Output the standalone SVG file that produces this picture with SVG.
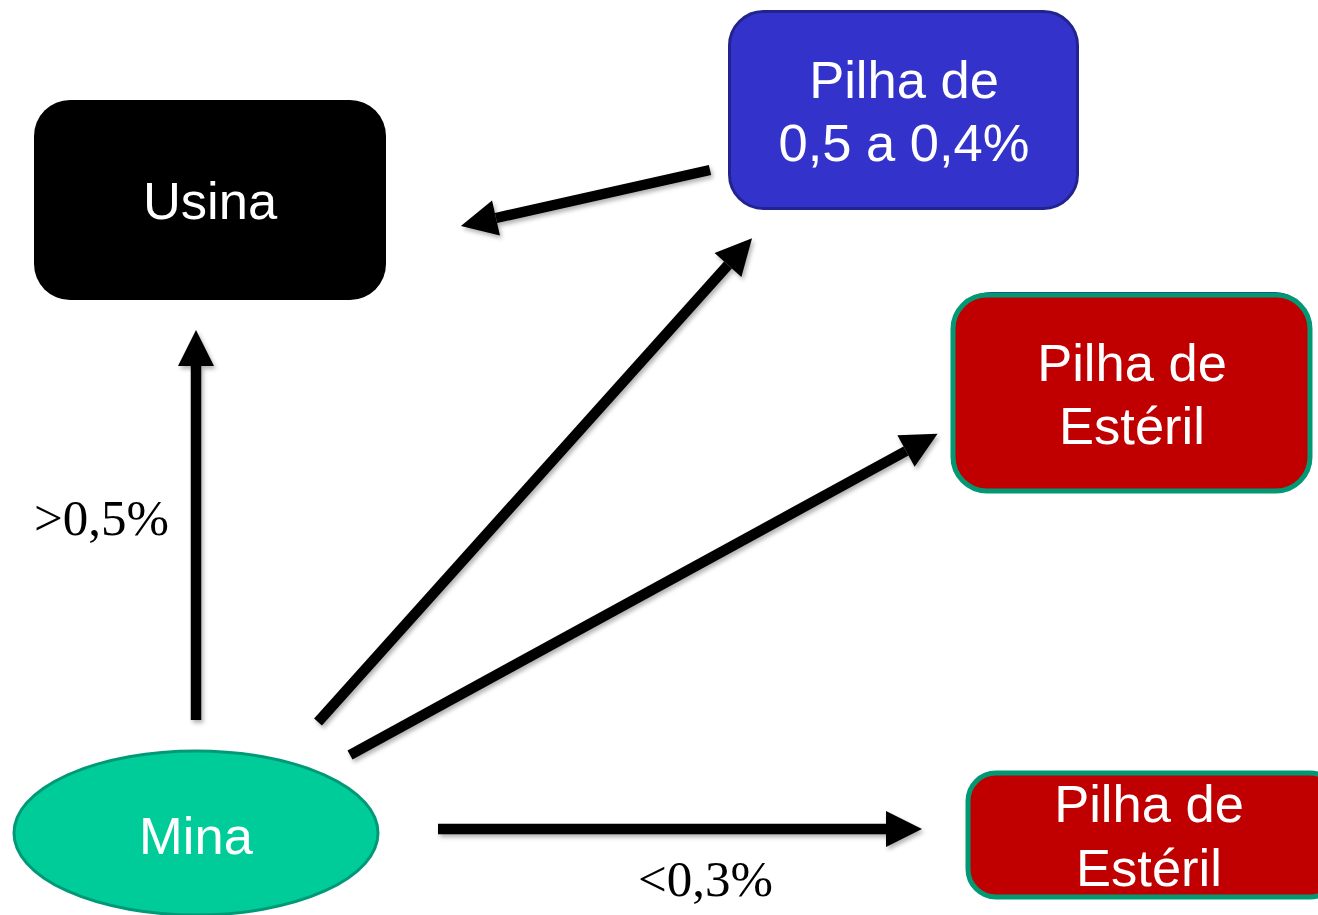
<svg xmlns="http://www.w3.org/2000/svg" width="1318" height="915" viewBox="0 0 1318 915">
<style>
.lbl{font-family:"Liberation Sans",Arial,sans-serif;font-size:52.5px;fill:#fff;text-anchor:middle}
.pct{font-family:"Liberation Serif","Times New Roman",serif;font-size:51px;fill:#000}
.conn{stroke:#000;stroke-width:10.5;fill:none;marker-end:url(#ah)}
</style>
<defs>
<marker id="ah" markerUnits="userSpaceOnUse" markerWidth="40" markerHeight="40" refX="0" refY="18" orient="auto" overflow="visible">
<path d="M0,0 L36,18 L0,36 Z" fill="#000"/>
</marker>
<filter id="sh" x="-10%" y="-10%" width="120%" height="120%">
<feDropShadow dx="2" dy="3" stdDeviation="2" flood-color="#000" flood-opacity="0.3"/>
</filter>
</defs>
<g id="connectors" filter="url(#sh)">
<line class="conn" x1="196" y1="720" x2="196" y2="366"/>
<line class="conn" x1="318" y1="722" x2="728" y2="265"/>
<line class="conn" x1="350" y1="755" x2="906" y2="451"/>
<line class="conn" x1="438" y1="829" x2="886" y2="829"/>
<line class="conn" x1="710" y1="170" x2="496" y2="218"/>
</g>
<g id="usina">
<rect x="34" y="100" width="352" height="200" rx="36" fill="#000"/>
<text class="lbl" x="210" y="219">Usina</text>
</g>
<g id="pilha-intermediaria">
<rect x="729.5" y="11.5" width="348" height="197" rx="34" fill="#3333cc" stroke="#23238f" stroke-width="3"/>
<text class="lbl" x="904" y="98">Pilha de</text>
<text class="lbl" x="904" y="161">0,5 a 0,4%</text>
</g>
<g id="pilha-esteril-1">
<rect x="957" y="292" width="352" height="196" rx="34" fill="#23238f"/>
<rect x="953" y="295" width="357" height="196" rx="34" fill="#c00000" stroke="#009973" stroke-width="5"/>
<text class="lbl" x="1132" y="381">Pilha de</text>
<text class="lbl" x="1132" y="444">Estéril</text>
</g>
<g id="pilha-esteril-2">
<rect x="968" y="773" width="370" height="124" rx="28" fill="#c00000" stroke="#009973" stroke-width="5"/>
<text class="lbl" x="1149" y="822">Pilha de</text>
<text class="lbl" x="1149" y="886">Estéril</text>
</g>
<g id="mina">
<ellipse cx="196" cy="833" rx="182" ry="82" fill="#00cc99" stroke="#009977" stroke-width="3"/>
<text class="lbl" x="196" y="854">Mina</text>
</g>
<g id="labels">
<text class="pct" x="34" y="535">&gt;0,5%</text>
<text class="pct" x="638" y="896">&lt;0,3%</text>
</g>
</svg>
